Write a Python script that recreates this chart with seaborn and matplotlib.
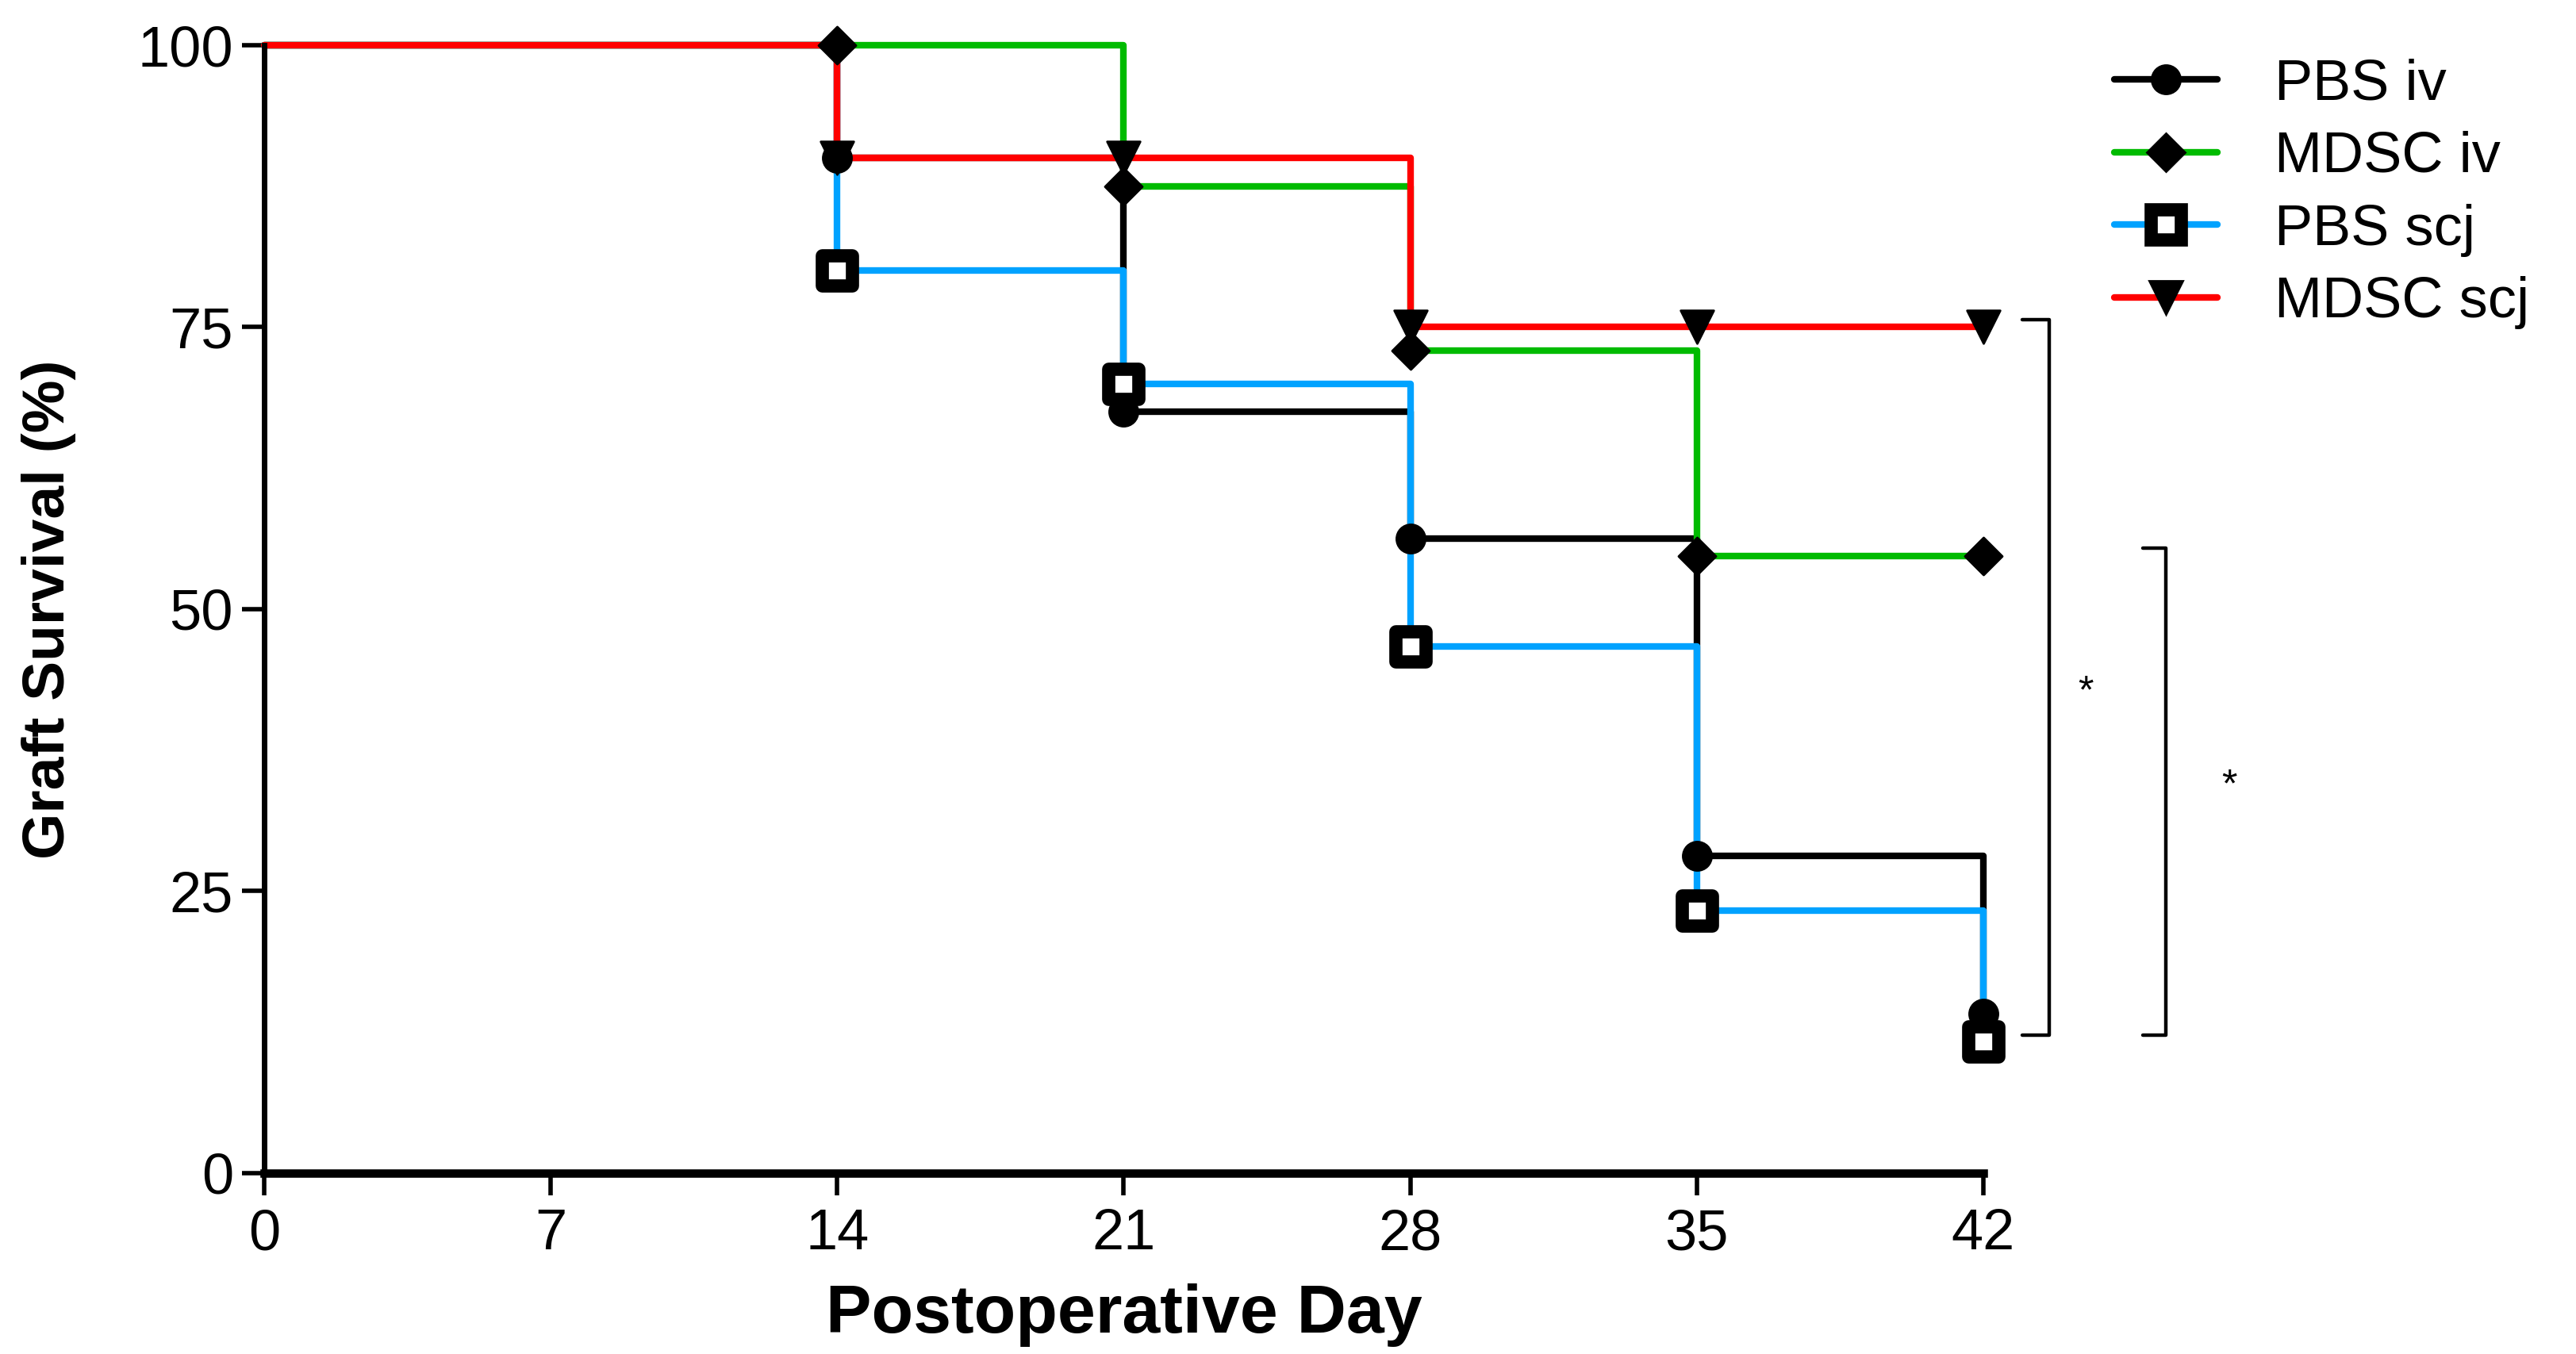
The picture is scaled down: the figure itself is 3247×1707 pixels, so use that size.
#Importing Modules
import numpy as np
import pandas as pd
import seaborn as sns
import matplotlib.pyplot as plt
from matplotlib.lines import Line2D


#Graft survival (%)
days = [0, 14, 21, 28, 35, 42]
groups = ["PBS iv", "MDSC iv", "PBS scj", "MDSC scj"]
pbs_iv = [100, 90, 67.5, 56.25, 28.1, 14.1]
mdsc_iv = [100, 100, 87.5, 72.9, 54.7, 54.7]
pbs_scj = [100, 80, 70, 46.7, 23.3, 11.7]
mdsc_scj = [100, 90, 90, 75, 75, 75]
xticks = [0, 7, 14, 21, 28, 35, 42]
yticks = [0, 25, 50, 75, 100]

colors = {"PBS iv": "#000000", "MDSC iv": "#00BB00", "PBS scj": "#00A2FF", "MDSC scj": "#FF0000"}
markers = {"PBS iv": "o", "MDSC iv": "D", "PBS scj": "s", "MDSC scj": "v"}
msize = {"PBS iv": 13, "MDSC iv": 12, "PBS scj": 14, "MDSC scj": 15}
mface = {"PBS iv": "black", "MDSC iv": "black", "PBS scj": "white", "MDSC scj": "black"}
medge = {"PBS iv": 1, "MDSC iv": 1, "PBS scj": 6, "MDSC scj": 1}

df = pd.DataFrame({
    "day": days * 4,
    "survival": pbs_iv + mdsc_iv + pbs_scj + mdsc_scj,
    "group": np.repeat(groups, len(days)),
})

sns.set_style("ticks", rc={"axes.edgecolor": "black", "text.color": "black",
                           "axes.labelcolor": "black", "xtick.color": "black",
                           "ytick.color": "black"})
plt.rcParams["font.family"] = ["Liberation Sans", "DejaVu Sans"]

fig = plt.figure(figsize=(16.24, 8.535), dpi=200)
ax = fig.add_axes([0.1025, 0.1336, 0.6672, 0.833])

#step curves
sns.lineplot(data=df, x="day", y="survival", hue="group", hue_order=groups,
             palette=colors, estimator=None, drawstyle="steps-post",
             linewidth=3, legend=False, ax=ax, clip_on=False)

#markers at event / censor days
for g in groups:
    pts = df[(df["group"] == g) & (df["day"] > 0)]
    sns.scatterplot(data=pts, x="day", y="survival", marker=markers[g],
                    s=msize[g] ** 2, color=mface[g], edgecolor="black",
                    linewidth=medge[g], ax=ax, clip_on=False, zorder=5)

ax.set_xlim(0, 42)
ax.set_ylim(0, 100)
ax.set_xticks(xticks)
ax.set_yticks(yticks)
sns.despine(ax=ax)
ax.spines["left"].set_linewidth(2.5)
ax.spines["bottom"].set_linewidth(3.8)
ax.tick_params(axis="both", direction="out", length=10, width=2, labelsize=26)
ax.tick_params(axis="x", pad=6)
ax.tick_params(axis="y", pad=4)
ax.set_xlabel("Postoperative Day", fontsize=31, fontweight="bold", labelpad=10)
ax.set_ylabel("Graft Survival (%)", fontsize=27, fontweight="bold", labelpad=28)

#significance brackets
brackets = [(mdsc_scj[-1], pbs_scj[-1], 42.95, 43.6, 44.5, 42.6),
            (mdsc_iv[-1], pbs_scj[-1], 45.9, 46.45, 48.0, 34.3)]
for top, bot, x0, x1, xs, ys in brackets:
    top, bot = top + 0.7, bot + 0.5
    ax.plot([x0, x1, x1, x0], [top, top, bot, bot], color="black", lw=1.6, clip_on=False)
    ax.text(xs, ys, "*", fontsize=18, ha="center", va="center")

#legend
handles = [Line2D([0], [0], color=colors[g], lw=3, marker=markers[g],
                  markersize=msize[g], markerfacecolor=mface[g],
                  markeredgecolor="black", markeredgewidth=medge[g]) for g in groups]
fig.legend(handles, groups, loc="upper left", bbox_to_anchor=(0.8205, 0.957),
           frameon=False, fontsize=26, handlelength=1.8, handletextpad=1.0,
           labelspacing=0.34, borderpad=0, borderaxespad=0)

fig.savefig("out.png", dpi=200)
